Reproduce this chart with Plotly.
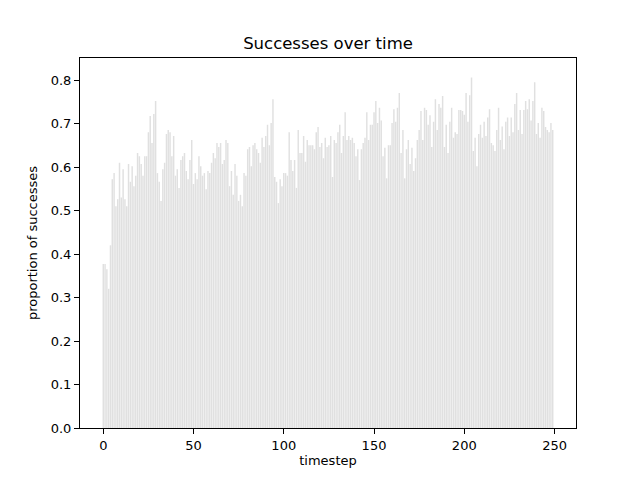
import plotly.graph_objects as go

# proportion of successes per timestep
part1 = [0.377, 0.377, 0.365, 0.32, 0.42, 0.572, 0.586, 0.51, 0.526, 0.61,
         0.53, 0.595, 0.526, 0.51, 0.607, 0.566, 0.602, 0.556, 0.58, 0.632]
part2 = [0.625, 0.607, 0.58, 0.625, 0.625, 0.68, 0.717, 0.655, 0.722, 0.752,
         0.586, 0.566, 0.522, 0.595, 0.61, 0.676, 0.685, 0.68, 0.625, 0.671, 0.58]
part3 = [0.595, 0.552, 0.616, 0.625, 0.632, 0.591, 0.572, 0.616, 0.662, 0.561,
         0.586, 0.572, 0.625, 0.602, 0.58, 0.586, 0.549, 0.591, 0.586, 0.61, 0.632]
part4 = [0.62, 0.655, 0.646, 0.655, 0.607, 0.616, 0.662, 0.655, 0.556, 0.591,
         0.536, 0.607, 0.58, 0.522, 0.536, 0.51, 0.586, 0.58, 0.641, 0.646, 0.602]
part5 = [0.65, 0.655, 0.641, 0.632, 0.61, 0.667, 0.646, 0.671, 0.697, 0.65,
         0.701, 0.756, 0.577, 0.566, 0.517, 0.572, 0.556, 0.586, 0.586, 0.58, 0.68]
part6 = [0.616, 0.591, 0.616, 0.552, 0.685, 0.632, 0.632, 0.671, 0.612, 0.662,
         0.65, 0.65, 0.65, 0.641, 0.68, 0.692, 0.646, 0.655, 0.62, 0.667, 0.646]
part7 = [0.65, 0.671, 0.577, 0.662, 0.655, 0.68, 0.697, 0.632, 0.671, 0.726,
         0.662, 0.671, 0.662, 0.667, 0.655, 0.625, 0.641, 0.57, 0.641, 0.655, 0.667]
part8 = [0.726, 0.662, 0.697, 0.697, 0.726, 0.752, 0.701, 0.736, 0.707, 0.625,
         0.644, 0.574, 0.65, 0.65, 0.701, 0.733, 0.704, 0.736, 0.77, 0.632, 0.685]
part9 = [0.574, 0.641, 0.662, 0.607, 0.644, 0.591, 0.62, 0.662, 0.685, 0.729,
         0.662, 0.736, 0.731, 0.697, 0.719, 0.646, 0.704, 0.756, 0.685, 0.745, 0.736]
part10 = [0.763, 0.646, 0.697, 0.632, 0.704, 0.736, 0.667, 0.68, 0.676, 0.731,
          0.731, 0.729, 0.72, 0.77, 0.704, 0.765, 0.806, 0.637, 0.667, 0.602, 0.676]
part11 = [0.697, 0.667, 0.704, 0.671, 0.714, 0.733, 0.655, 0.65, 0.637, 0.685,
          0.736, 0.662, 0.693, 0.641, 0.704, 0.714, 0.671, 0.714, 0.68, 0.745, 0.77]
part12 = [0.685, 0.731, 0.676, 0.731, 0.752, 0.733, 0.756, 0.707, 0.752, 0.795,
          0.676, 0.701, 0.667, 0.736, 0.729, 0.692, 0.685, 0.68, 0.701, 0.685]

successes = (part1 + part2 + part3 + part4 + part5 + part6 + part7 + part8
             + part9 + part10 + part11 + part12)
timesteps = list(range(len(successes)))

x_ticks = [0, 50, 100, 150, 200, 250]
y_ticks = [0.0, 0.1, 0.2, 0.3, 0.4, 0.5, 0.6, 0.7, 0.8]

fig = go.Figure()
fig.add_trace(go.Bar(x=timesteps, y=successes,
                     marker=dict(color="rgba(224,224,224,0.99)",
                                 line=dict(width=0))))

n = len(successes)
pad = (n - 1 + 0.8) * 0.05
# page body has an 8px margin, so the plot box is shifted up/left by 8px
fig.update_layout(
    width=640, height=480,
    margin=dict(l=72, r=72, t=50, b=60),
    paper_bgcolor="white", plot_bgcolor="white",
    font=dict(family="DejaVu Sans", size=13, color="black"),
    title=dict(text="Successes over time", x=0.5, xanchor="center",
               y=1 - 35 / 480, yanchor="middle", font=dict(size=16.5)),
    showlegend=False,
    bargap=0.2,
)
fig.update_xaxes(range=[-0.4 - pad, n - 1 + 0.4 + pad], tickvals=x_ticks,
                 ticks="outside", ticklen=5, tickcolor="black",
                 showline=True, linecolor="black", linewidth=1, mirror=True,
                 showgrid=False, zeroline=False,
                 title=dict(text="timestep", standoff=4, font=dict(size=13)))
fig.update_yaxes(range=[0, 0.8506], tickvals=y_ticks, tickformat=".1f",
                 ticks="outside", ticklen=5, tickcolor="black",
                 showline=True, linecolor="black", linewidth=1, mirror=True,
                 showgrid=False, zeroline=False,
                 title=dict(text="proportion of successes", standoff=10,
                            font=dict(size=13)))

fig.write_html("out.html")
